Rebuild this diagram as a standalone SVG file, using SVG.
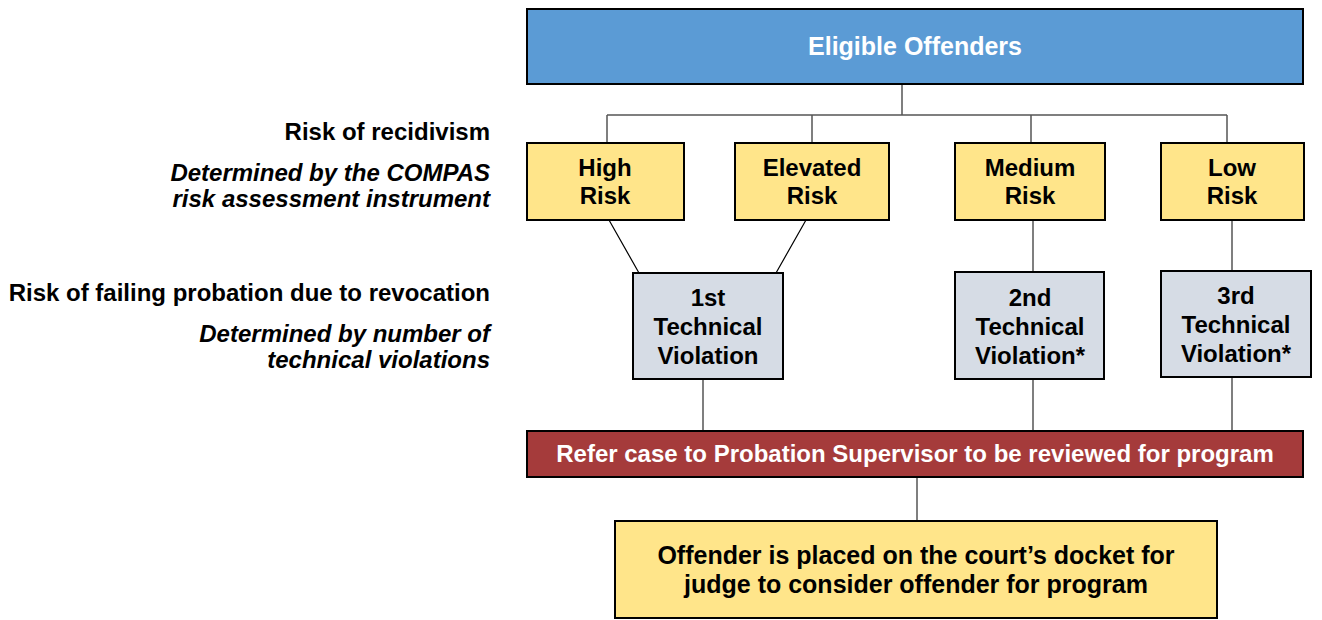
<svg xmlns="http://www.w3.org/2000/svg" width="1322" height="620" viewBox="0 0 1322 620">
<style>
  text { font-family: "Liberation Sans", Arial, sans-serif; font-weight: bold; font-size: 24px; }
  .c { text-anchor: middle; fill: #000; }
  .w { text-anchor: middle; fill: #fff; }
  .r { text-anchor: end; fill: #000; }
  .i { font-style: italic; }
  .big { font-size: 25px; }
  .box { stroke: #000; stroke-width: 2; }
  .blue { fill: #5B9BD5; }
  .yel { fill: #FFE58A; }
  .gry { fill: #D6DCE5; }
  .red { fill: #A53B3B; }
  .ln { stroke: #555; stroke-width: 1.5; fill: none; }
  .dg { stroke: #000; stroke-width: 1.2; fill: none; }
</style>
<rect width="1322" height="620" fill="#fff"/>
<g id="labels">
  <text class="r" x="490" y="140">Risk of recidivism</text>
  <text class="r i" x="490" y="181">Determined by the COMPAS</text>
  <text class="r i" x="490" y="207">risk assessment instrument</text>
  <text class="r" x="490" y="301">Risk of failing probation due to revocation</text>
  <text class="r i" x="490" y="342">Determined by number of</text>
  <text class="r i" x="490" y="368">technical violations</text>
</g>
<g id="connectors">
  <path class="ln" d="M902 84V115M607 115H1227M607 115V143M812 115V143M1031 115V143M1227 115V143"/>
  <path class="dg" d="M609 220L639 273M806 220L776 273"/>
  <path class="ln" d="M1033 220V272M1232 220V271M703 379V431M1033 379V431M1232 377V431M917 477V521"/>
</g>
<g id="eligible">
  <rect class="box blue" x="527" y="9" width="776" height="75"/>
  <text class="w big" x="915" y="55">Eligible Offenders</text>
</g>
<g id="high">
  <rect class="box yel" x="527" y="143" width="157" height="77"/>
  <text class="c" x="605" y="176">High</text>
  <text class="c" x="605" y="204">Risk</text>
</g>
<g id="elevated">
  <rect class="box yel" x="735" y="143" width="154" height="77"/>
  <text class="c" x="812" y="176">Elevated</text>
  <text class="c" x="812" y="204">Risk</text>
</g>
<g id="medium">
  <rect class="box yel" x="955" y="143" width="150" height="77"/>
  <text class="c" x="1030" y="176">Medium</text>
  <text class="c" x="1030" y="204">Risk</text>
</g>
<g id="low">
  <rect class="box yel" x="1161" y="143" width="143" height="77"/>
  <text class="c" x="1232" y="176">Low</text>
  <text class="c" x="1232" y="204">Risk</text>
</g>
<g id="tv1">
  <rect class="box gry" x="633" y="273" width="150" height="106"/>
  <text class="c" x="708" y="306">1st</text>
  <text class="c" x="708" y="335">Technical</text>
  <text class="c" x="708" y="364">Violation</text>
</g>
<g id="tv2">
  <rect class="box gry" x="955" y="272" width="149" height="107"/>
  <text class="c" x="1030" y="306">2nd</text>
  <text class="c" x="1030" y="335">Technical</text>
  <text class="c" x="1030" y="364">Violation*</text>
</g>
<g id="tv3">
  <rect class="box gry" x="1161" y="271" width="150" height="106"/>
  <text class="c" x="1236" y="304">3rd</text>
  <text class="c" x="1236" y="333">Technical</text>
  <text class="c" x="1236" y="362">Violation*</text>
</g>
<g id="refer">
  <rect class="box red" x="527" y="431" width="776" height="46"/>
  <text class="w" x="915" y="462">Refer case to Probation Supervisor to be reviewed for program</text>
</g>
<g id="docket">
  <rect class="box yel" x="615" y="521" width="602" height="97"/>
  <text class="c big" x="916" y="564">Offender is placed on the court’s docket for</text>
  <text class="c big" x="916" y="593">judge to consider offender for program</text>
</g>
</svg>
